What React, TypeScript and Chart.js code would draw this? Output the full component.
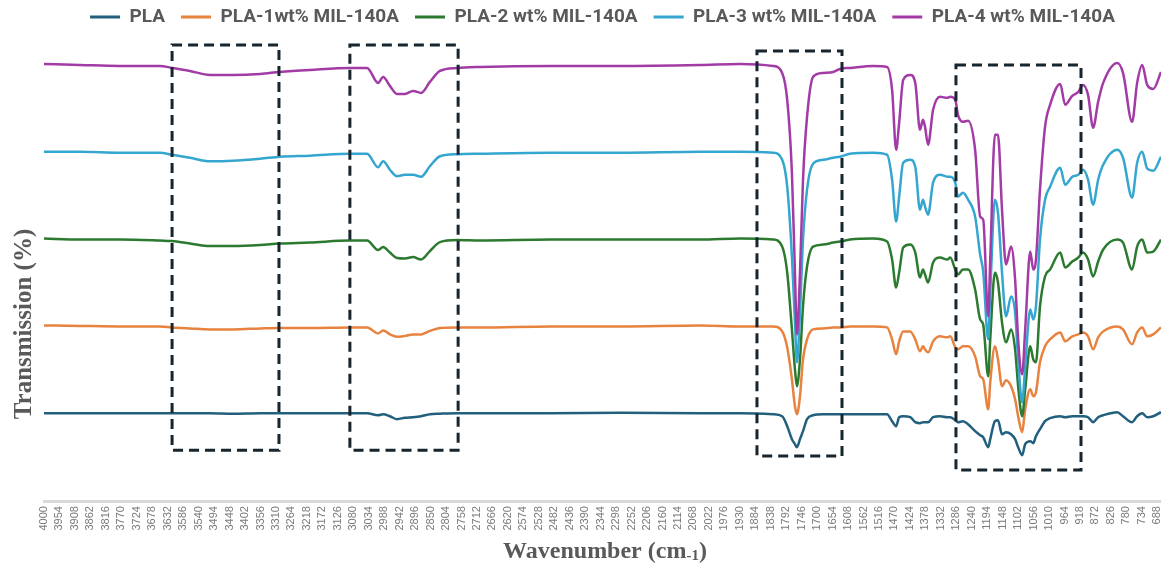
import React, { useEffect, useRef } from 'react';
import { Chart, registerables } from 'chart.js';

Chart.register(...registerables);

// Sampled wavenumbers (cm-1), shared by every spectrum
const WAVENUMBERS = [
  4000, 3893, 3774, 3655, 3619, 3566, 3506, 3438, 3357, 3298,
  3209, 3090, 3039, 3006, 2991, 2971, 2950, 2926, 2902, 2878,
  2852, 2822, 2771, 2703, 2494, 2286, 2048, 1929, 1831, 1804,
  1789, 1775, 1766, 1760, 1751, 1742, 1730, 1712, 1682, 1652,
  1632, 1602, 1533, 1492, 1477, 1465, 1456, 1444, 1423, 1408,
  1394, 1385, 1379, 1370, 1355, 1334, 1313, 1304, 1289, 1281,
  1266, 1251, 1230, 1215, 1206, 1191, 1185, 1171, 1162, 1150,
  1138, 1123, 1111, 1102, 1090, 1081, 1066, 1057, 1049, 1037,
  1022, 1007, 977, 962, 941, 923, 909, 894, 879, 864,
  849, 807, 790, 763, 748, 733, 718, 700, 677,
];

// Offset transmission traces (stacked for readability)
const PLA = [
  17.6, 17.6, 17.6, 17.6, 17.6, 17.6, 17.6, 17.5, 17.6, 17.6,
  17.6, 17.6, 17.6, 17.2, 17.4, 17.0, 16.4, 16.7, 16.8, 17.0,
  17.4, 17.5, 17.6, 17.6, 17.6, 17.7, 17.6, 17.6, 17.4, 17.0,
  15.0, 12.4, 11.4, 10.8, 12.4, 14.0, 16.4, 17.2, 17.4, 17.4,
  17.4, 17.4, 17.4, 17.4, 16.0, 15.0, 16.8, 17.0, 16.8, 15.8,
  15.6, 15.8, 15.8, 15.8, 16.8, 17.0, 16.8, 16.8, 16.2, 15.8,
  16.0, 15.4, 14.0, 13.2, 12.8, 10.8, 12.4, 16.0, 16.2, 13.4,
  13.8, 13.4, 12.4, 10.8, 9.2, 11.4, 12.0, 11.6, 13.0, 14.4,
  16.0, 16.6, 17.0, 16.8, 17.0, 17.0, 17.0, 16.8, 15.8, 16.8,
  17.2, 17.8, 17.0, 15.8, 17.0, 17.6, 16.8, 17.0, 17.8,
];

const PLA_1WT = [
  35.2, 35.1, 35.0, 35.0, 34.8, 34.6, 34.4, 34.4, 34.6, 34.7,
  34.7, 34.8, 34.8, 33.6, 34.2, 33.4, 32.9, 33.1, 33.4, 33.4,
  34.1, 34.7, 34.8, 34.8, 35.0, 35.0, 35.2, 35.0, 35.0, 34.0,
  30.8, 24.4, 19.0, 17.4, 21.0, 28.4, 32.4, 34.4, 34.6, 34.8,
  34.8, 35.0, 35.0, 34.8, 32.4, 29.4, 32.0, 34.0, 34.0, 32.4,
  30.0, 31.0, 30.4, 29.8, 32.0, 33.0, 32.8, 33.0, 30.8, 30.4,
  31.0, 31.0, 29.0, 25.0, 24.4, 18.4, 23.8, 31.0, 28.4, 23.0,
  24.2, 23.0, 20.4, 17.0, 13.8, 18.4, 22.4, 21.0, 21.8, 27.8,
  31.0, 32.4, 33.8, 32.0, 33.0, 33.4, 33.8, 33.0, 30.4, 32.8,
  34.0, 35.0, 34.4, 31.4, 33.8, 34.8, 33.0, 33.4, 34.8,
];

const PLA_2WT = [
  52.6, 52.4, 52.4, 52.2, 52.1, 51.6, 51.1, 51.1, 51.3, 51.6,
  51.8, 52.2, 52.2, 50.3, 50.9, 49.8, 48.7, 48.6, 48.9, 48.4,
  50.1, 51.9, 52.3, 52.2, 52.4, 52.4, 52.4, 52.6, 52.4, 51.0,
  45.8, 34.4, 26.4, 23.0, 28.4, 39.0, 47.0, 51.0, 51.4, 51.8,
  52.0, 52.4, 52.6, 52.0, 48.4, 42.8, 45.8, 50.8, 51.4, 49.8,
  44.8, 46.4, 45.4, 43.8, 47.8, 48.8, 48.4, 48.8, 46.4, 45.4,
  46.4, 46.4, 42.4, 36.4, 35.4, 25.0, 32.4, 45.8, 43.8, 35.8,
  31.8, 34.4, 30.4, 23.0, 17.0, 22.4, 31.0, 28.4, 27.8, 39.0,
  45.0, 46.4, 49.8, 46.8, 48.0, 48.8, 49.8, 48.4, 45.0, 48.0,
  50.4, 52.4, 51.8, 46.4, 51.0, 52.4, 49.8, 50.0, 52.4,
];

const PLA_3WT = [
  70.0, 70.0, 69.8, 69.8, 69.4, 68.8, 68.1, 68.2, 68.6, 69.0,
  69.2, 69.6, 69.6, 66.9, 68.1, 66.4, 65.1, 65.4, 65.4, 65.0,
  67.1, 69.1, 69.5, 69.6, 69.8, 69.8, 70.0, 70.0, 69.8, 68.4,
  63.0, 49.0, 35.8, 27.8, 37.8, 52.4, 62.4, 67.6, 68.4, 68.8,
  69.0, 69.6, 69.8, 69.4, 64.4, 56.0, 61.0, 67.8, 68.4, 67.0,
  58.4, 60.4, 59.0, 57.4, 63.8, 65.4, 65.0, 65.0, 63.8, 61.0,
  61.8, 60.4, 57.0, 49.4, 46.0, 32.4, 41.8, 60.4, 57.8, 45.8,
  37.0, 41.0, 37.8, 28.4, 19.8, 27.0, 38.4, 36.4, 39.0, 52.4,
  60.4, 63.0, 66.8, 63.4, 65.0, 65.4, 66.4, 64.4, 59.4, 64.4,
  67.4, 70.4, 68.8, 60.8, 67.8, 70.0, 66.6, 66.2, 69.0,
];

const PLA_4WT = [
  87.6, 87.4, 87.2, 87.2, 86.8, 86.2, 85.4, 85.4, 85.6, 86.0,
  86.4, 86.8, 86.8, 83.8, 85.0, 83.2, 81.6, 81.6, 82.2, 81.8,
  84.0, 86.2, 86.8, 87.0, 87.2, 87.2, 87.4, 87.6, 87.2, 85.8,
  80.4, 65.8, 45.8, 33.4, 45.8, 64.4, 77.0, 85.0, 85.8, 86.0,
  86.6, 86.8, 87.2, 87.0, 82.4, 70.4, 75.8, 84.4, 85.4, 83.8,
  74.4, 76.4, 75.0, 71.4, 78.4, 81.0, 80.8, 81.0, 80.4, 77.4,
  76.0, 76.2, 70.4, 57.0, 56.4, 37.0, 48.4, 73.4, 73.4, 58.4,
  47.4, 51.0, 44.4, 32.4, 25.4, 34.4, 50.0, 46.4, 48.4, 62.4,
  75.0, 79.4, 83.6, 79.4, 81.2, 82.0, 83.4, 81.4, 74.8, 80.0,
  83.8, 87.8, 85.8, 76.0, 83.8, 87.4, 83.4, 82.6, 86.0,
];

const SERIES_NAMES = [
  'PLA',
  'PLA-1wt% MIL-140A',
  'PLA-2 wt% MIL-140A',
  'PLA-3 wt% MIL-140A',
  'PLA-4 wt% MIL-140A',
];
const SERIES_VALUES = [PLA, PLA_1WT, PLA_2WT, PLA_3WT, PLA_4WT];
const SERIES_COLORS = ['#215f7c', '#e8823f', '#2b7a30', '#35a6cf', '#a33ba6'];

// Wavenumber tick labels along the bottom axis
const TICK_LABELS = [
  4000, 3954, 3908, 3862, 3816, 3770, 3724, 3678, 3632, 3586, 3540, 3494,
  3448, 3402, 3356, 3310, 3264, 3218, 3172, 3126, 3080, 3034, 2988, 2942,
  2896, 2850, 2804, 2758, 2712, 2666, 2620, 2574, 2528, 2482, 2436, 2390,
  2344, 2298, 2252, 2206, 2160, 2114, 2068, 2022, 1976, 1930, 1884, 1838,
  1792, 1746, 1700, 1654, 1608, 1562, 1516, 1470, 1424, 1378, 1332, 1286,
  1240, 1194, 1148, 1102, 1056, 1010, 964, 918, 872, 826, 780, 734, 688,
];

// Highlighted bands (wavenumber span, transmission span)
const HIGHLIGHT_FROM = [3619, 3090, 1879, 1287];
const HIGHLIGHT_TO = [3301, 2768, 1626, 915];
const HIGHLIGHT_TOP = [91.4, 91.4, 90.2, 87.4];
const HIGHLIGHT_BOTTOM = [10.2, 10.2, 9.0, 6.2];

const X_TITLE = 'Wavenumber (cm';
const X_TITLE_SUB = '-1';
const Y_TITLE = 'Transmission (%)';

const highlightPlugin = {
  id: 'highlightBands',
  afterDatasetsDraw(chart: any) {
    const { ctx } = chart;
    const x = chart.scales.x;
    const y = chart.scales.y;
    ctx.save();
    ctx.strokeStyle = '#17252f';
    ctx.lineWidth = 3;
    ctx.setLineDash([10, 6]);
    HIGHLIGHT_FROM.forEach((from, i) => {
      const l = x.getPixelForValue(from);
      const r = x.getPixelForValue(HIGHLIGHT_TO[i]);
      const t = y.getPixelForValue(HIGHLIGHT_TOP[i]);
      const b = y.getPixelForValue(HIGHLIGHT_BOTTOM[i]);
      ctx.strokeRect(l, t, r - l, b - t);
    });
    ctx.restore();
  },
};

const axisTitlePlugin = {
  id: 'axisTitles',
  afterDraw(chart: any) {
    const { ctx, width } = chart;
    const serif = '"Liberation Serif", "Times New Roman", serif';
    ctx.save();
    ctx.fillStyle = '#595959';
    ctx.textBaseline = 'alphabetic';

    // vertical title
    ctx.save();
    ctx.font = `bold 25px ${serif}`;
    ctx.translate(31, 324);
    ctx.rotate(-Math.PI / 2);
    ctx.textAlign = 'center';
    ctx.fillText(Y_TITLE, 0, 0);
    ctx.restore();

    // horizontal title with a small exponent after "cm"
    ctx.textAlign = 'left';
    ctx.font = `bold 24px ${serif}`;
    const w1 = ctx.measureText(X_TITLE).width;
    const w3 = ctx.measureText(')').width;
    ctx.font = `bold 15px ${serif}`;
    const w2 = ctx.measureText(X_TITLE_SUB).width;
    const total = w1 + w2 + w3;
    const cx = (605 / 1161) * width;
    let xPos = cx - total / 2;
    const base = 558;
    ctx.font = `bold 24px ${serif}`;
    ctx.fillText(X_TITLE, xPos, base);
    xPos += w1;
    ctx.font = `bold 15px ${serif}`;
    ctx.fillText(X_TITLE_SUB, xPos, base + 2);
    xPos += w2;
    ctx.font = `bold 24px ${serif}`;
    ctx.fillText(')', xPos, base);
    ctx.restore();
  },
};

export default function App() {
  const canvasRef = useRef<HTMLCanvasElement | null>(null);

  useEffect(() => {
    if (!canvasRef.current) return;
    const datasets = SERIES_NAMES.map((name, i) => ({
      label: name,
      data: WAVENUMBERS.map((w, j) => ({ x: w, y: SERIES_VALUES[i][j] })),
      borderColor: SERIES_COLORS[i],
      backgroundColor: SERIES_COLORS[i],
      borderWidth: 2.5,
      pointRadius: 0,
      cubicInterpolationMode: 'monotone' as const,
      order: SERIES_NAMES.length - 1 - i,
    }));

    const chart = new Chart(canvasRef.current, {
      type: 'line',
      data: { datasets },
      plugins: [highlightPlugin, axisTitlePlugin],
      options: {
        animation: false,
        responsive: true,
        maintainAspectRatio: false,
        layout: { padding: { left: 44, right: 0, top: -8.5, bottom: 28.5 } },
        plugins: {
          tooltip: { enabled: false },
          legend: {
            position: 'top',
            labels: {
              boxWidth: 30,
              boxHeight: 3,
              padding: 16,
              color: '#595959',
              font: { family: 'Roboto, "Noto Sans", sans-serif', size: 19, weight: 'bold' },
              generateLabels: (c: any) =>
                c.data.datasets.map((ds: any, i: number) => ({
                  text: ds.label,
                  fillStyle: ds.borderColor,
                  strokeStyle: ds.borderColor,
                  lineWidth: 0,
                  hidden: false,
                  datasetIndex: i,
                  fontColor: '#595959',
                })),
            },
          },
        },
        scales: {
          x: {
            type: 'linear',
            reverse: true,
            min: 677,
            max: 4000,
            afterBuildTicks: (scale: any) => {
              scale.ticks = TICK_LABELS.map((v) => ({ value: v }));
            },
            afterFit: (scale: any) => {
              scale.paddingLeft = 0;
              scale.paddingRight = 0;
            },
            grid: { display: false, drawTicks: false },
            border: { display: true, color: '#d9d9d9', width: 3 },
            ticks: {
              autoSkip: false,
              minRotation: 90,
              maxRotation: 90,
              padding: 5,
              color: '#7a7a7a',
              font: { family: '"Liberation Sans", Arial, sans-serif', size: 11 },
              callback: (v: any) => String(v),
            },
          },
          y: {
            display: false,
            min: 0,
            max: 93.1,
          },
        },
      },
    });
    return () => chart.destroy();
  }, []);

  return (
    <div style={{ position: 'fixed', left: 0, top: 0, width: '1161px', height: '564px', background: '#ffffff' }}>
      <canvas ref={canvasRef} />
    </div>
  );
}
